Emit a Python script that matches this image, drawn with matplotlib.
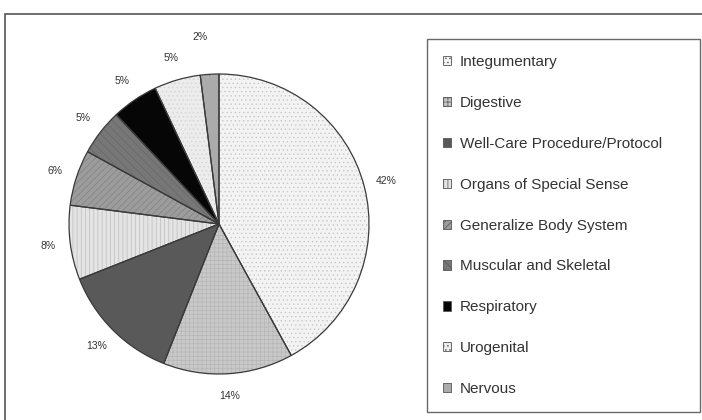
import matplotlib.pyplot as plt
import numpy as np
from matplotlib.patches import Rectangle

plt.rcParams['font.family'] = ['Liberation Sans', 'DejaVu Sans']
plt.rcParams['hatch.linewidth'] = 0.5

# body system share of encounters (%)
systems = ['Integumentary', 'Digestive', 'Well-Care Procedure/Protocol',
           'Organs of Special Sense', 'Generalize Body System',
           'Muscular and Skeletal', 'Respiratory', 'Urogenital', 'Nervous']
shares = [42, 14, 13, 8, 6, 5, 5, 5, 2]
pct_labels = ['42%', '14%', '13%', '8%', '6%', '5%', '5%', '5%', '2%']

faces = ['#f3f3f3', '#c9c9c9', '#595959', '#e4e4e4', '#9c9c9c',
         '#777777', '#060606', '#ececec', '#ababab']
hatch_cols = ['#c8c8c8', '#b6b6b6', '#595959', '#bcbcbc', '#828282',
              '#686868', '#060606', '#d4d4d4', '#ababab']
hatches = ['....', '++++', None, '||||', '/////', '\\\\\\\\', None, '....', None]

fig = plt.figure(figsize=(7.02, 4.2), dpi=100)

# outer frame, runs off the right and bottom edges
fig.patches.append(Rectangle((5 / 702, -0.05), 1.0, 1 - 14 / 420 + 0.05,
                             transform=fig.transFigure, fill=False,
                             edgecolor='#555555', linewidth=1.2))

ax = fig.add_axes([69 / 702, 46 / 420, 300 / 702, 300 / 420])

# fill + hatch pass, then outline pass
wedges, _ = ax.pie(shares, startangle=90, counterclock=False,
                   colors=faces, wedgeprops=dict(linewidth=0))
for w, h, hc in zip(wedges, hatches, hatch_cols):
    w.set_edgecolor(hc)
    if h:
        w.set_hatch(h)
ax.pie(shares, startangle=90, counterclock=False,
       colors=['none'] * len(shares),
       wedgeprops=dict(linewidth=0.9, edgecolor='#3a3a3a'))

# percentage labels around the rim
bounds = np.cumsum([0] + shares) / sum(shares) * 360
for i, txt in enumerate(pct_labels):
    mid = np.deg2rad(90 - (bounds[i] + bounds[i + 1]) / 2)
    small = shares[i] < 3
    dist = 1.25 if small else 1.15
    x, y = dist * np.cos(mid), dist * np.sin(mid)
    ax.text(x - 0.05 * small, y, txt, ha='center', va='center',
            fontsize=7.5, color='#333333')
    if small:
        ax.plot([0.995 * np.cos(mid), 1.17 * np.cos(mid) - 0.02],
                [0.995 * np.sin(mid), 1.17 * np.sin(mid)],
                color='#444444', linewidth=0.7)

ax.set_xlim(-1, 1)
ax.set_ylim(-1, 1)
ax.set_aspect('equal')

leg = fig.legend(wedges, systems, loc='upper left',
                 bbox_to_anchor=(427 / 702, 0, 273 / 702, 1 - 39 / 420),
                 mode='expand', fontsize=11, frameon=True, fancybox=False,
                 handlelength=0.55, handleheight=0.55, handletextpad=0.55,
                 labelspacing=1.76, borderpad=1.05, borderaxespad=0)
leg.get_frame().set_edgecolor('#444444')
leg.get_frame().set_linewidth(1.0)
for t in leg.get_texts():
    t.set_color('#333333')
for h in leg.legend_handles:
    h.set_edgecolor('#555555')
    h.set_linewidth(0.6)

fig.savefig('out.png', dpi=100)
